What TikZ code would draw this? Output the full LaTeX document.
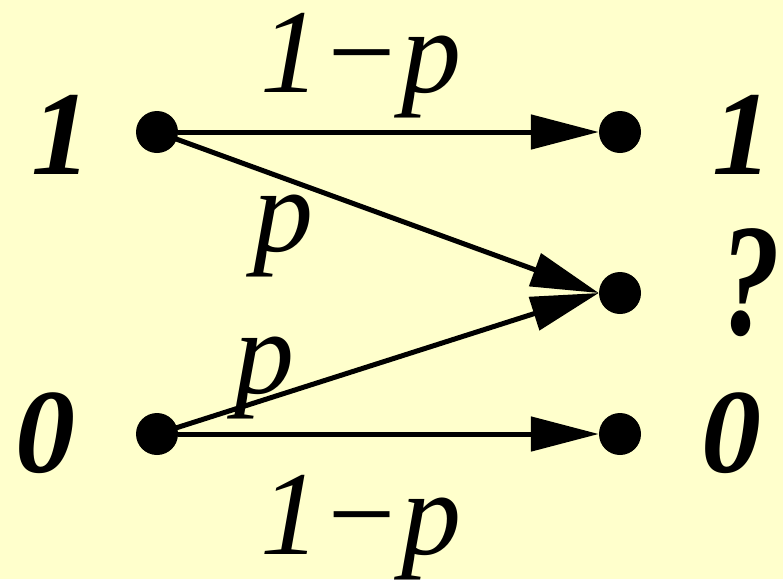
\documentclass[tikz,border=0pt]{standalone}
\usepackage{fontspec}
\setmainfont{Liberation Serif}
\usetikzlibrary{arrows.meta}
\definecolor{bg}{HTML}{FFFFCC}
\begin{document}
\begin{tikzpicture}[x=1pt,y=-1pt,
 dot/.style={circle,fill=black,inner sep=0pt,minimum size=42pt},
 sym/.style={font=\fontsize{120}{120}\selectfont\bfseries\itshape,anchor=base,inner sep=0pt},
 prob/.style={font=\fontsize{120}{120}\selectfont\itshape,anchor=base,inner sep=0pt},
 conn/.style={line width=5pt,-{Triangle[length=68pt,width=34pt]}}]
\fill[bg] (0,0) rectangle (783,579);
\useasboundingbox (0,0) rectangle (783,579);
\node[dot] (i1) at (157,132) {};
\node[dot] (i0) at (157,434) {};
\node[dot] (o1) at (620,132) {};
\node[dot] (oq) at (620,293) {};
\node[dot] (o0) at (620,434) {};
\draw[conn] (i1) -- (o1);
\draw[conn] (i0) -- (o0);
\draw[conn] (i1.center) -- (oq.west);
\draw[conn] (i0.center) -- (oq.west);
\node[sym] (l1) at (61,174) {1};
\node[sym] (l0) at (45,472) {0};
\node[sym] (r1) at (742,174) {1};
\node[sym] (r0) at (731,472) {0};
\node[sym,font=\fontsize{160}{160}\selectfont\bfseries\itshape,xscale=0.75] (rq) at (750,334) {?};
\node[prob] (ptop) at (361,92) {1−p};
\node[prob] (pbot) at (361,554) {1−p};
\node[prob] (pu) at (283,251) {p};
\node[prob] (pl) at (264,393) {p};
\end{tikzpicture}
\end{document}
